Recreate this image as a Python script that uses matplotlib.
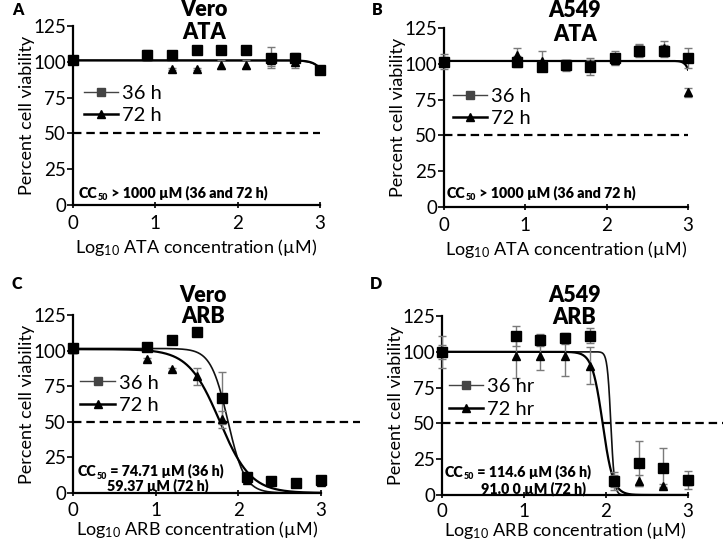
import numpy as np
import matplotlib
matplotlib.use("Agg")
import matplotlib.pyplot as plt

plt.rcParams['font.family'] = ['Lato', 'DejaVu Sans']
plt.rcParams['mathtext.default'] = 'regular'

# ---------------- data ----------------
log_conc = [0, 0.9, 1.2, 1.5, 1.8, 2.1, 2.4, 2.7, 3.0]

vero_ata_36 = [101, 105, 105, 108, 108.5, 108, 103, 103, 94]
vero_ata_36_err = [2, 3, 1, 1, 1, 1, 7, 3, 2]
vero_ata_72 = [102, 104, 95, 95, 98, 98, 101, 100, 95]
vero_ata_72_err = [1, 2, 1, 1, 3, 3, 4, 4, 2]

a549_ata_36 = [101.5, 101.5, 98, 99, 98, 104, 109, 109, 104]
a549_ata_36_err = [5, 4, 3, 4, 6, 5, 4, 4, 7]
a549_ata_72 = [102, 106, 102, 100, 100, 103, 109.5, 111, 80]
a549_ata_72_err = [3, 5, 7, 3, 3, 3, 4, 5, 3]

vero_arb_36 = [101.5, 102.3, 107.4, 113.3, 66.8, 11.3, 8.4, 7, 9.4]
vero_arb_36_err = [3, 1.5, 1, 1, 18, 2, 2, 1, 2.5]
vero_arb_72 = [101, 93.8, 86.8, 82, 51.8, 9.4, 8.4, 7.7, 7.7]
vero_arb_72_err = [2, 1, 1, 6, 6, 2, 1, 1, 1]

a549_arb_36 = [100, 111.3, 108.2, 109.4, 111.3, 9.8, 22, 19, 10.5]
a549_arb_36_err = [11, 7, 4, 4, 5, 6, 16, 14, 6]
a549_arb_72 = [100, 97, 97, 97, 90.3, 9.8, 10, 6.5, 10]
a549_arb_72_err = [5, 15, 10, 14, 13, 4, 4, 1, 1]

# fitted dose-response curves: (top, logCC50, hill)
fit_vero_ata_36 = (101, 3.25, 5)
fit_vero_ata_72 = (101, 3.2, 6)
fit_a549_ata_36 = (102, 5.0, 5)
fit_a549_ata_72 = (102, 3.1, 12)
fit_vero_arb_36 = (101.5, 1.873, 4.2)
fit_vero_arb_72 = (101, 1.774, 2.3)
fit_a549_arb_36 = (100, 2.059, 20)
fit_a549_arb_72 = (100, 1.959, 6.8)

y_ticks = [0, 25, 50, 75, 100, 125]
x_ticks = [0, 1, 2, 3]

CC_FS = 10.3
CC_WEIGHT = 'heavy'


def curve(xx, p):
    top, logc, hill = p
    return top / (1 + 10 ** ((xx - logc) * hill))


def cc_text(ax, x, y, rest, fs=CC_FS):
    t1 = ax.text(x, y, 'CC', transform=ax.transAxes, ha='left', va='center',
                 fontsize=fs, fontweight=CC_WEIGHT)
    t2 = ax.annotate('50', xy=(1, 0), xycoords=t1, xytext=(0.2, -1.5),
                     textcoords='offset points', ha='left', va='bottom',
                     fontsize=fs * 0.62, fontweight=CC_WEIGHT)
    ax.annotate(rest, xy=(1, 0), xycoords=(t2, t1), xytext=(0, 0),
                textcoords='offset points', ha='left', va='bottom',
                fontsize=fs, fontweight=CC_WEIGHT)


fig = plt.figure(figsize=(7.23, 5.43), dpi=100)

panels = [
    dict(rect=[73, 320, 26, 205], cell='Vero', drug='ATA', letter='A', lpos=(12, 10),
         d36=(vero_ata_36, vero_ata_36_err), d72=(vero_ata_72, vero_ata_72_err),
         f36=fit_vero_ata_36, f72=fit_vero_ata_72, labels=('36 h', '72 h'),
         tpos=(0.53, 1.09, 0.53, 0.961), leg=(0.045, 0.56), dash_end=3.0,
         xpad=5, xlpad=3),
    dict(rect=[444, 688, 28, 207], cell='A549', drug='ATA', letter='B', lpos=(372, 10),
         d36=(a549_ata_36, a549_ata_36_err), d72=(a549_ata_72, a549_ata_72_err),
         f36=fit_a549_ata_36, f72=fit_a549_ata_72, labels=('36 h', '72 h'),
         tpos=(0.537, 1.10, 0.537, 0.961), leg=(0.035, 0.556), dash_end=3.0,
         xpad=5, xlpad=3),
    dict(rect=[73, 321, 315, 493], cell='Vero', drug='ARB', letter='C', lpos=(12, 284),
         d36=(vero_arb_36, vero_arb_36_err), d72=(vero_arb_72, vero_arb_72_err),
         f36=fit_vero_arb_36, f72=fit_vero_arb_72, labels=('36 h', '72 h'),
         tpos=(0.524, 1.112, 0.524, 0.989), leg=(0.03, 0.556), dash_end=3.47,
         xpad=4, xlpad=0),
    dict(rect=[442, 688, 316, 495], cell='A549', drug='ARB', letter='D', lpos=(370, 284),
         d36=(a549_arb_36, a549_arb_36_err), d72=(a549_arb_72, a549_arb_72_err),
         f36=fit_a549_arb_36, f72=fit_a549_arb_72, labels=('36 hr', '72 hr'),
         tpos=(0.537, 1.117, 0.537, 0.989), leg=(0.027, 0.542), dash_end=3.45,
         xpad=3, xlpad=0),
]

W, H = 723, 543
xx = np.linspace(0, 3, 600)

axes = []
for p in panels:
    l, r, t, b = p['rect']
    ax = fig.add_axes([l / W, (H - b) / H, (r - l) / W, (b - t) / H])
    axes.append(ax)
    ax.set_xlim(0, 3)
    ax.set_ylim(0, 125)
    for s in ['top', 'right']:
        ax.spines[s].set_visible(False)
    for s in ['left', 'bottom']:
        ax.spines[s].set_linewidth(1.6)
    ax.set_yticks(y_ticks)
    ax.set_xticks(x_ticks)
    ax.tick_params(axis='y', direction='out', length=4, width=1.2, labelsize=13.5, pad=1)
    ax.tick_params(axis='x', direction='inout', length=5, width=1.2, labelsize=13.5,
                   pad=p['xpad'])
    ax.patch.set_alpha(0)

    # dashed 50 % line
    ax.plot([0, p['dash_end']], [50, 50], color='black', lw=1.6,
            linestyle=(0, (3.8, 2.2)), clip_on=False, zorder=1)

    # curves
    ax.plot(xx, curve(xx, p['f36']), color='#111111', lw=1.2, zorder=2)
    ax.plot(xx, curve(xx, p['f72']), color='black', lw=1.6, zorder=2)

    # error bars
    y36, e36 = p['d36']
    y72, e72 = p['d72']
    ax.errorbar(log_conc, y36, yerr=e36, fmt='none', ecolor='#7a7a7a', elinewidth=1,
                capsize=3, capthick=1, zorder=3, clip_on=False)
    ax.errorbar(log_conc, y72, yerr=e72, fmt='none', ecolor='#7a7a7a', elinewidth=1,
                capsize=3, capthick=1, zorder=3, clip_on=False)
    # markers
    ax.plot(log_conc, y72, linestyle='none', marker='^', ms=6, color='black',
            zorder=4, clip_on=False)
    ax.plot(log_conc, y36, linestyle='none', marker='s', ms=6.5, color='black',
            zorder=5, clip_on=False)

    # legend
    h36, = ax.plot([], [], color='#444444', lw=1.0, marker='s', ms=5.5)
    h72, = ax.plot([], [], color='black', lw=1.8, marker='^', ms=5.5)
    ax.legend([h36, h72], list(p['labels']), loc='center left',
              bbox_to_anchor=p['leg'], frameon=False, fontsize=14.5,
              handlelength=1.7, handletextpad=0.2, labelspacing=0.25,
              borderpad=0, borderaxespad=0, numpoints=1)

    ax.set_ylabel('Percent cell viability', fontsize=13, labelpad=-1)
    ax.set_xlabel('Log$_{10}$ %s concentration (µM)' % p['drug'], fontsize=13,
                  labelpad=p['xlpad'])

    tx1, ty1, tx2, ty2 = p['tpos']
    ax.text(tx1, ty1, p['cell'], transform=ax.transAxes, ha='center', va='center',
            fontsize=15.5, fontweight='heavy')
    ax.text(tx2, ty2, p['drug'], transform=ax.transAxes, ha='center', va='center',
            fontsize=15.5, fontweight='heavy')

    fig.text(p['lpos'][0] / W, 1 - p['lpos'][1] / H, p['letter'], ha='left', va='center',
             fontsize=11.5, fontweight='heavy')

# CC50 annotations
axA, axB, axC, axD = axes
cc_text(axA, 0.024, 0.067, ' > 1000 µM (36 and 72 h)')
cc_text(axB, 0.01, 0.078, ' > 1000 µM (36 and 72 h)')
cc_text(axC, 0.02, 0.118, ' = 74.71 µM (36 h)')
axC.text(0.548, 0.039, '59.37 µM (72 h)', transform=axC.transAxes,
         ha='right', va='center', fontsize=CC_FS, fontweight=CC_WEIGHT)
cc_text(axD, 0.012, 0.128, ' = 114.6 µM (36 h)')
axD.text(0.16, 0.034, '91.0 0 µM (72 h)', transform=axD.transAxes,
         ha='left', va='center', fontsize=CC_FS, fontweight=CC_WEIGHT)

fig.savefig('out.png', dpi=100)
